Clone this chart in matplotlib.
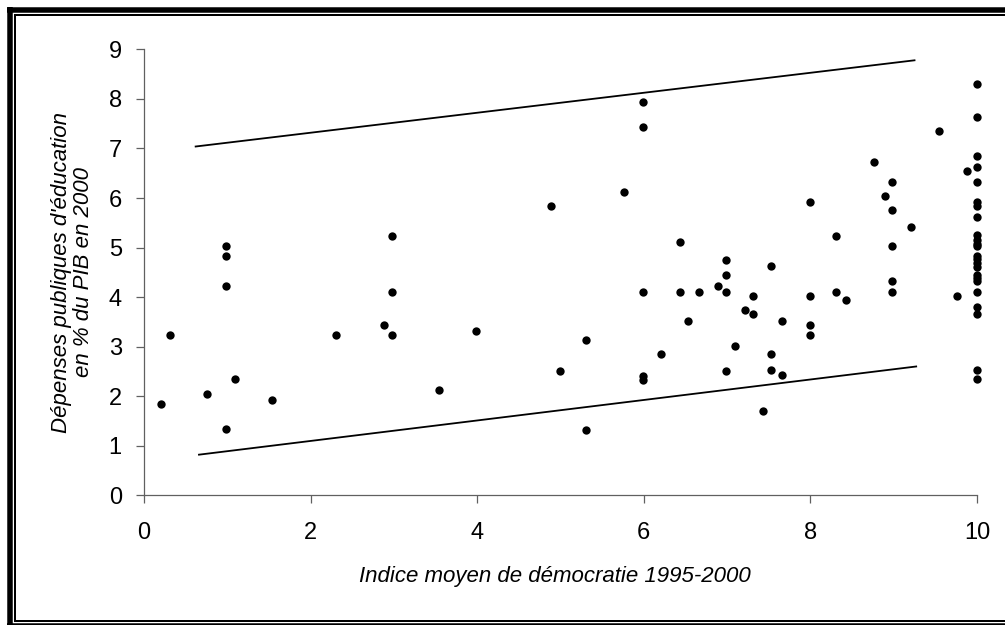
import matplotlib
matplotlib.use("Agg")
import matplotlib.pyplot as plt
from matplotlib.lines import Line2D

plt.rcParams['font.family'] = ['Liberation Sans', 'DejaVu Sans']

# indice moyen de démocratie / dépenses d'éducation (% du PIB)
democratie = [0.21, 0.31, 0.76, 0.99, 0.99, 0.99, 0.99, 1.09, 1.54, 2.31,
              2.88, 2.98, 2.98, 2.98, 3.54, 3.99, 4.89, 4.99, 5.31, 5.31,
              5.76, 5.99, 5.99, 5.99, 5.99, 5.99, 6.21, 6.43, 6.43, 6.53,
              6.66, 6.89, 6.99, 6.99, 6.99, 6.99, 7.09, 7.21, 7.31, 7.31,
              7.43, 7.53, 7.53, 7.53, 7.66, 7.66, 7.99, 7.99, 7.99, 7.99,
              8.31, 8.31, 8.43, 8.76, 8.89, 8.98, 8.98, 8.98, 8.98, 8.98,
              9.21, 9.54, 9.76, 9.88]
depenses = [1.84, 3.23, 2.05, 5.03, 4.82, 4.23, 1.34, 2.34, 1.92, 3.23,
            3.44, 5.24, 4.11, 3.23, 2.13, 3.31, 5.83, 2.51, 3.14, 1.31,
            6.13, 7.93, 7.43, 4.10, 2.41, 2.33, 2.85, 5.12, 4.10, 3.52,
            4.10, 4.23, 4.74, 4.44, 4.10, 2.51, 3.01, 3.73, 4.02, 3.65,
            1.71, 4.62, 2.85, 2.52, 3.52, 2.43, 5.92, 4.02, 3.43, 3.23,
            5.24, 4.10, 3.94, 6.72, 6.04, 6.33, 5.75, 5.03, 4.32, 4.10,
            5.41, 7.35, 4.02, 6.55]
# pays avec un indice de 10
depenses_10 = [8.31, 7.64, 6.84, 6.63, 6.33, 5.92, 5.83, 5.62, 5.25, 5.16,
               5.08, 5.03, 4.82, 4.76, 4.69, 4.61, 4.45, 4.39, 4.32, 4.10,
               3.81, 3.65, 2.52, 2.35]

# bornes tracées à la main
borne_x = [0.62, 9.25]
borne_haute = [7.04, 8.78]
borne_basse_x = [0.66, 9.27]
borne_basse = [0.82, 2.60]

W, H = 1005, 625
fig = plt.figure(figsize=(W / 100, H / 100), dpi=100)
ax = fig.add_axes([144 / W, 1 - 495.3 / H, 833 / W, 445.9 / H])

x_all = democratie + [10] * len(depenses_10)
y_all = depenses + depenses_10
ax.scatter(x_all, y_all, s=36, color='black', zorder=3, clip_on=False,
           linewidths=0)

ax.plot(borne_x, borne_haute, color='black', lw=1.3)
ax.plot(borne_basse_x, borne_basse, color='black', lw=1.3)

ax.set_xlim(0, 10)
ax.set_ylim(0, 9)
ax.set_xticks(range(0, 11, 2))
ax.set_yticks(range(0, 10))

for side in ['top', 'right']:
    ax.spines[side].set_visible(False)
for side in ['left', 'bottom']:
    ax.spines[side].set_color('#606060')
    ax.spines[side].set_linewidth(0.9)

ax.tick_params(axis='both', direction='out', length=6, width=0.9,
               color='#606060', labelsize=17, labelcolor='black')
ax.tick_params(axis='y', pad=10)
ax.tick_params(axis='x', pad=13)

ax.set_xlabel("Indice moyen de démocratie 1995-2000", fontsize=16,
              style='italic')
ax.xaxis.set_label_coords(0.493, -0.158)
ax.set_ylabel("Dépenses publiques d'éducation\nen % du PIB en 2000",
              fontsize=16, style='italic', linespacing=1.05)
ax.yaxis.set_label_coords(-0.06, 0.5)

# double cadre autour du graphique
def px_line(xs, ys, lw):
    fig.add_artist(Line2D([v / W for v in xs], [1 - v / H for v in ys],
                          transform=fig.transFigure, color='black', lw=lw,
                          solid_capstyle='butt'))

px_line([9.75, 9.75], [7, 640], 3.96)
px_line([7, 1010], [9.75, 9.75], 3.96)
px_line([7, 1010], [626, 626], 3.96)
px_line([15, 15], [14, 621.5], 1.44)
px_line([14, 1010], [15, 15], 1.44)
px_line([14, 1010], [620.5, 620.5], 1.44)

fig.savefig("out.png", dpi=100)
